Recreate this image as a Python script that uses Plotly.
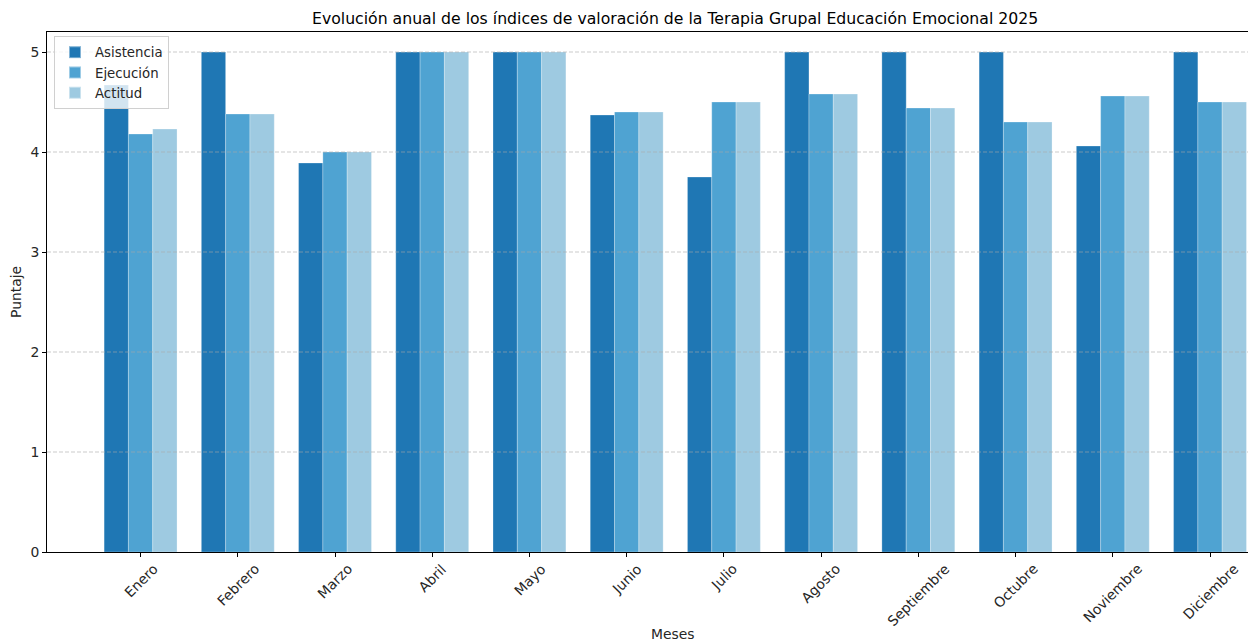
import plotly.graph_objects as go

meses = ["Enero", "Febrero", "Marzo", "Abril", "Mayo", "Junio", "Julio",
         "Agosto", "Septiembre", "Octubre", "Noviembre", "Diciembre"]
asistencia = [4.67, 5.0, 3.89, 5.0, 5.0, 4.37, 3.75, 5.0, 5.0, 5.0, 4.06, 5.0]
ejecucion = [4.18, 4.38, 4.0, 5.0, 5.0, 4.40, 4.50, 4.58, 4.44, 4.30, 4.56, 4.50]
actitud = [4.23, 4.38, 4.0, 5.0, 5.0, 4.40, 4.50, 4.58, 4.44, 4.30, 4.56, 4.50]
y_ticks = [0, 1, 2, 3, 4, 5]

FONT = "DejaVu Sans"
OFF = 8  # page body margin offset
W, H = 1256 - OFF, 643 - OFF
ML, MR, MT = 47 - OFF, 0, 32 - OFF
PB = 552 - OFF
MB = H - PB
PW = W - ML - MR
PH = PB - MT

series = [("Asistencia", asistencia, "#1f77b4"),
          ("Ejecución", ejecucion, "#4fa3d2"),
          ("Actitud", actitud, "#9ecae1")]

fig = go.Figure()
for name, vals, col in series:
    fig.add_trace(go.Bar(
        x=meses, y=vals, name=name,
        marker=dict(color=col, line=dict(color="rgba(255,255,255,0.45)", width=0.6)),
    ))

# dashed grid lines drawn above bars (as in the reference)
for v in y_ticks[1:]:
    fig.add_shape(type="line", xref="paper", x0=0, x1=1, yref="y", y0=v, y1=v,
                  line=dict(color="rgba(170,170,170,0.75)", width=0.8, dash="4px,2px"),
                  layer="above")

annotations = []
for m in meses:
    annotations.append(dict(
        x=m, xref="x", y=0, yref="paper", yshift=-6,
        text=m, textangle=-45, showarrow=False,
        xanchor="center", yanchor="top",
        font=dict(family=FONT, size=13.9, color="#262626")))

annotations.append(dict(
    x=(673 - 47) / PW, xref="paper", y=(552 - 634) / PH, yref="paper",
    text="Meses", showarrow=False, xanchor="center", yanchor="middle",
    font=dict(family=FONT, size=13.9, color="#262626")))
annotations.append(dict(
    x=(16 - 47) / PW, xref="paper", y=0.5, yref="paper",
    text="Puntaje", textangle=-90, showarrow=False, xanchor="center", yanchor="middle",
    font=dict(family=FONT, size=13.9, color="#262626")))
annotations.append(dict(
    x=(675 - 47) / PW, xref="paper", y=(552 - 18) / PH, yref="paper",
    text="Evolución anual de los índices de valoración de la Terapia Grupal Educación Emocional 2025",
    showarrow=False, xanchor="center", yanchor="middle",
    font=dict(family=FONT, size=15.7, color="#000000")))

fig.update_layout(
    width=W, height=H,
    margin=dict(l=ML, r=MR, t=MT, b=MB, pad=0),
    paper_bgcolor="white", plot_bgcolor="white",
    barmode="group", bargap=0.25, bargroupgap=0,
    font=dict(family=FONT, size=13.9, color="#262626"),
    showlegend=True,
    legend=dict(x=(54 - 47) / PW, y=(552 - 36) / PH, xanchor="left", yanchor="top",
                bgcolor="rgba(255,255,255,0.8)", bordercolor="#d0d0d0", borderwidth=1,
                font=dict(family=FONT, size=13.3, color="#262626"),
                itemsizing="constant", tracegroupgap=1),
    annotations=annotations,
    xaxis=dict(range=[-0.9625, 11.473], showgrid=False, zeroline=False,
               showline=True, linecolor="black", linewidth=1, mirror=True,
               ticks="outside", ticklen=4, tickcolor="black", tickwidth=1,
               showticklabels=False, fixedrange=True),
    yaxis=dict(range=[0, 5.2], tickvals=y_ticks, showgrid=False, zeroline=False,
               showline=True, linecolor="black", linewidth=1,
               ticks="outside", ticklen=4, tickcolor="black", tickwidth=1,
               tickfont=dict(family=FONT, size=13.9, color="#262626"),
               fixedrange=True),
)

fig.write_html("out.html")
